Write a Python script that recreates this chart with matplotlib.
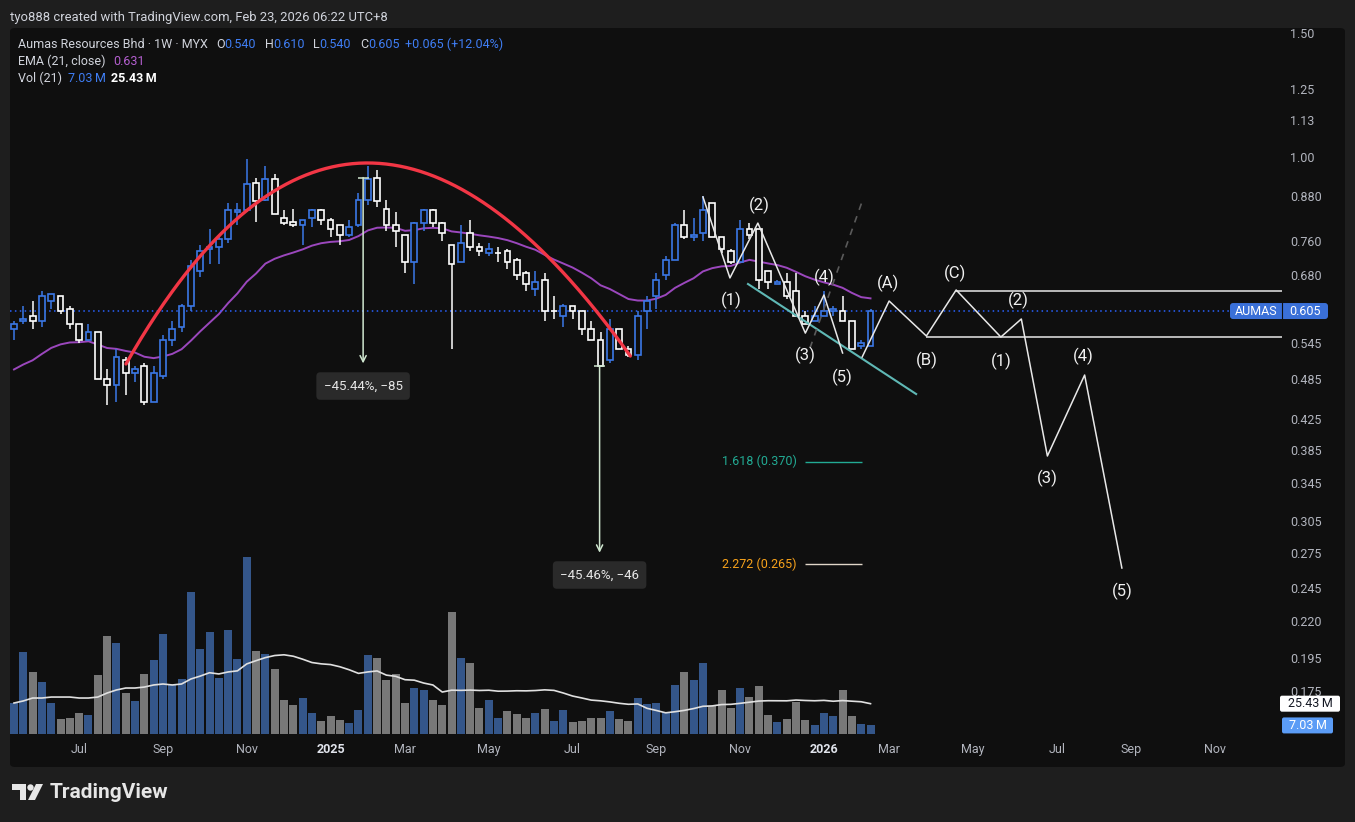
import numpy as np
import matplotlib
matplotlib.use('Agg')
import matplotlib.pyplot as plt
from matplotlib.patches import Rectangle, FancyBboxPatch, Polygon, Circle
import matplotlib.transforms as mtrans
from matplotlib.ticker import NullLocator

plt.rcParams['font.family'] = ['Roboto', 'DejaVu Sans']

# ---------------- data ----------------
OPEN = [0.570, 0.585, 0.595, 0.585, 0.625, 0.635, 0.610, 0.580, 0.550, 0.565,
        0.485, 0.475, 0.515, 0.495, 0.505, 0.450, 0.490, 0.550, 0.575, 0.615,
        0.690, 0.740, 0.745, 0.765, 0.835, 0.840, 0.920, 0.870, 0.930, 0.820,
        0.810, 0.800, 0.820, 0.840, 0.815, 0.800, 0.775, 0.800, 0.870, 0.935,
        0.845, 0.800, 0.775, 0.710, 0.805, 0.840, 0.805, 0.750, 0.710, 0.780,
        0.745, 0.730, 0.730, 0.735, 0.715, 0.685, 0.650, 0.670, 0.605, 0.595,
        0.615, 0.605, 0.570, 0.550, 0.515, 0.570, 0.535, 0.525, 0.605, 0.635,
        0.680, 0.715, 0.800, 0.770, 0.780, 0.860, 0.770, 0.735, 0.710, 0.790,
        0.790, 0.690, 0.660, 0.665, 0.645, 0.595, 0.585, 0.595, 0.605, 0.605,
        0.585, 0.540, 0.540]
HIGH = [0.585, 0.615, 0.625, 0.645, 0.640, 0.635, 0.615, 0.580, 0.580, 0.565,
        0.500, 0.535, 0.520, 0.505, 0.510, 0.505, 0.560, 0.585, 0.620, 0.715,
        0.750, 0.790, 0.770, 0.860, 0.860, 0.995, 0.935, 0.970, 0.945, 0.840,
        0.845, 0.815, 0.845, 0.845, 0.820, 0.800, 0.815, 0.890, 0.970, 0.960,
        0.870, 0.835, 0.775, 0.810, 0.845, 0.845, 0.810, 0.750, 0.800, 0.815,
        0.755, 0.755, 0.745, 0.740, 0.720, 0.690, 0.690, 0.685, 0.635, 0.620,
        0.615, 0.605, 0.585, 0.565, 0.590, 0.570, 0.540, 0.605, 0.635, 0.685,
        0.725, 0.805, 0.840, 0.820, 0.880, 0.860, 0.770, 0.740, 0.815, 0.805,
        0.790, 0.690, 0.670, 0.685, 0.685, 0.605, 0.615, 0.645, 0.615, 0.635,
        0.585, 0.550, 0.610]
LOW = [0.550, 0.580, 0.570, 0.575, 0.610, 0.600, 0.570, 0.545, 0.550, 0.485,
       0.445, 0.450, 0.460, 0.480, 0.445, 0.450, 0.485, 0.540, 0.565, 0.605,
       0.675, 0.705, 0.705, 0.755, 0.800, 0.835, 0.810, 0.865, 0.830, 0.800,
       0.795, 0.750, 0.795, 0.800, 0.770, 0.750, 0.770, 0.795, 0.855, 0.850,
       0.785, 0.745, 0.685, 0.660, 0.785, 0.795, 0.760, 0.535, 0.710, 0.735,
       0.725, 0.725, 0.710, 0.695, 0.670, 0.645, 0.635, 0.585, 0.590, 0.575,
       0.590, 0.560, 0.550, 0.505, 0.510, 0.535, 0.520, 0.515, 0.570, 0.610,
       0.670, 0.715, 0.765, 0.760, 0.760, 0.770, 0.730, 0.705, 0.710, 0.765,
       0.650, 0.650, 0.660, 0.630, 0.595, 0.580, 0.585, 0.595, 0.595, 0.585,
       0.535, 0.535, 0.540]
CLOSE = [0.580, 0.590, 0.585, 0.635, 0.640, 0.605, 0.580, 0.550, 0.565, 0.485,
         0.475, 0.520, 0.495, 0.500, 0.450, 0.495, 0.550, 0.570, 0.615, 0.700,
         0.735, 0.745, 0.765, 0.840, 0.840, 0.915, 0.865, 0.930, 0.830, 0.805,
         0.800, 0.815, 0.840, 0.815, 0.790, 0.775, 0.795, 0.870, 0.930, 0.865,
         0.800, 0.785, 0.710, 0.805, 0.840, 0.805, 0.780, 0.705, 0.755, 0.745,
         0.735, 0.740, 0.730, 0.710, 0.680, 0.660, 0.665, 0.605, 0.605, 0.615,
         0.605, 0.570, 0.550, 0.505, 0.570, 0.535, 0.525, 0.595, 0.625, 0.670,
         0.715, 0.800, 0.770, 0.775, 0.840, 0.770, 0.740, 0.710, 0.790, 0.775,
         0.670, 0.665, 0.665, 0.635, 0.595, 0.580, 0.595, 0.605, 0.610, 0.585,
         0.535, 0.545, 0.605]
VOLUME_M = [25.4, 67.2, 50.8, 42.6, 25.4, 12.3, 13.1, 17.2, 15.6, 48.4,
            80.4, 74.6, 33.6, 27.1, 49.2, 60.7, 82.0, 40.2, 45.1, 116.4,
            69.7, 83.6, 45.9, 85.3, 61.5, 145.1, 68.1, 65.6, 53.3, 27.9,
            23.8, 29.5, 17.2, 10.7, 14.8, 11.5, 9.0, 19.7, 64.8, 62.3,
            44.3, 49.2, 25.4, 37.7, 36.1, 27.9, 23.8, 100.0, 62.3, 58.2,
            21.3, 27.9, 13.1, 18.9, 16.4, 13.1, 17.2, 20.5, 10.7, 19.7,
            9.8, 10.7, 13.1, 13.1, 18.9, 12.3, 10.7, 29.5, 24.6, 25.4,
            18.0, 40.2, 50.8, 44.3, 58.2, 23.0, 36.1, 21.3, 37.7, 30.3,
            39.4, 15.6, 9.8, 12.3, 26.2, 11.5, 7.4, 17.2, 14.8, 36.1,
            14.8, 8.2, 7.03]
# volume 21-MA as read for the first 20 weeks (earlier history not on chart)
VOL_MA_EARLY = [25.4, 27.1, 29.5, 29.5, 30.3, 30.3, 30.3, 29.5, 29.5, 30.3,
                33.6, 36.1, 37.7, 37.7, 38.5, 40.2, 41.0, 40.2, 41.0, 45.1]
EMA_START = 0.500
EMA_LEN = 21

PRICE_TICKS = [1.50, 1.25, 1.13, 1.00, 0.880, 0.760, 0.680, 0.545, 0.485, 0.425,
               0.385, 0.345, 0.305, 0.275, 0.245, 0.220, 0.195, 0.175]
TIME_TICK_POS = [7, 16, 25, 34, 42, 51, 60, 69, 78, 87, 94, 103, 112, 120, 129]
TIME_TICK_LABELS = ['Jul', 'Sep', 'Nov', '2025', 'Mar', 'May', 'Jul', 'Sep', 'Nov',
                    '2026', 'Mar', 'May', 'Jul', 'Sep', 'Nov']

# drawings (bar index, price)
ARC_PTS = [(12.03, 0.509), (36.3, 1.865), (66.2, 0.5224)]
WAVE1_X = [74.0, 76.9, 79.9, 85.0, 87.0, 89.0]
WAVE1_Y = [0.878, 0.674, 0.806, 0.563, 0.6375, 0.5276]
WAVE1_LBL = [('(1)', 77.0, 0.627), ('(2)', 80.1, 0.855), ('(3)', 85.0, 0.524),
             ('(4)', 87.0, 0.676), ('(5)', 89.0, 0.488)]
WAVE2_X = [91.1, 94.0, 98.0, 101.2, 106.0, 108.2, 111.0, 115.0, 119.0]
WAVE2_Y = [0.5207, 0.6251, 0.5577, 0.648, 0.5558, 0.5895, 0.377, 0.491, 0.2616]
WAVE2_LBL = [('(A)', 93.9, 0.663), ('(B)', 98.0, 0.5157), ('(C)', 101.1, 0.685),
             ('(1)', 106.0, 0.514), ('(2)', 107.9, 0.627), ('(3)', 111.0, 0.351),
             ('(4)', 114.9, 0.521), ('(5)', 119.0, 0.2427)]
BOX_TOP, BOX_TOP_X0 = 0.645, 101.2
BOX_BOT, BOX_BOT_X0 = 0.555, 98.0
TREND_X, TREND_Y = [78.84, 96.9], [0.6608, 0.4615]
DASH_X, DASH_Y = [85.5, 91.08], [0.5362, 0.8635]
RANGE1 = (37.5, 0.935, 0.510, '\u221245.44%, \u221285', 0.4737)
RANGE2 = (62.9, 0.505, 0.275, '\u221245.46%, \u221246', 0.2557)
FIB = [('1.618 (0.370)', 0.370, '#22ab94', '#22ab94'),
       ('2.272 (0.265)', 0.265, '#f7a21b', '#e0d6c8')]
FIB_TEXT_X, FIB_X0, FIB_X1 = 84.1, 85.0, 91.1
LAST_PRICE = 0.605

# ---------------- figure ----------------
W, H = 1355, 822
fig = plt.figure(figsize=(W / 100, H / 100), dpi=100)
fig.patch.set_facecolor('#1e1e1e')
BG = '#0f0f0f'
UP = '#3b78e7'
DN = '#ffffff'
TXT = '#d1d4dc'
AX_TXT = '#b2b5be'

def fx(px):
    return px / W

def fy(py):
    return 1 - py / H

fig.add_artist(FancyBboxPatch((fx(10), fy(767)), (1345 - 10) / W, (767 - 28) / H,
                              boxstyle='round,pad=0,rounding_size=0.004',
                              transform=fig.transFigure, facecolor=BG,
                              edgecolor='none', zorder=0))

rect = [fx(10), fy(738), 1272 / W, 710 / H]
ax_vol = fig.add_axes(rect)
ax_vol.set_facecolor('none')
ax = fig.add_axes(rect, sharex=ax_vol)
ax.set_facecolor('none')

n = len(CLOSE)
x = np.arange(n)
o = np.array(OPEN); h = np.array(HIGH); l = np.array(LOW); c = np.array(CLOSE)
up = c > o
cols = [UP if u else DN for u in up]

ax.set_xlim(-0.43, 136.2)
ax.set_yscale('log')
ax.set_ylim(0.15024, 1.5233)

# volume
vol = np.array(VOLUME_M)
vcols = ['#34568a' if cc >= oo else '#787878' for cc, oo in zip(c, o)]
ax_vol.bar(x, vol, width=0.86, color=vcols, zorder=1)
ma = np.empty(n)
ma[:len(VOL_MA_EARLY)] = VOL_MA_EARLY
for i in range(len(VOL_MA_EARLY), n):
    ma[i] = vol[i - 20:i + 1].mean()
ax_vol.plot(x, ma, color='#e0e0e0', lw=1.2, zorder=2)
ax_vol.set_ylim(-3.28, 578.9)
ax_vol.axis('off')

# candles
btop = np.maximum(o, c); bbot = np.minimum(o, c)
ax.vlines(x, btop, h, colors=cols, lw=1.1, zorder=3)
ax.vlines(x, l, bbot, colors=cols, lw=1.1, zorder=3)
hgt = np.maximum(btop - bbot, 1e-5)
ax.bar(x, hgt, bottom=bbot, width=0.62, facecolor=BG, edgecolor=cols, linewidth=1.2, zorder=4)

# EMA
alpha = 2.0 / (EMA_LEN + 1)
ema = np.empty(n)
ema[0] = EMA_START
for i in range(1, n):
    ema[i] = ema[i - 1] + alpha * (c[i] - ema[i - 1])
ax.plot(x, ema, color='#9b47bd', lw=1.4, zorder=2)

# last price dotted line
ax.axhline(LAST_PRICE, color='#2962ff', ls=(0, (1, 2.2)), lw=1.1, zorder=2)

# arc (quadratic curve in chart space)
t = np.linspace(0, 1, 300)
(x0, y0), (x1, y1), (x2, y2) = ARC_PTS
ly0, ly1, ly2 = np.log(y0), np.log(y1), np.log(y2)
bx = (1 - t) ** 2 * x0 + 2 * t * (1 - t) * x1 + t ** 2 * x2
by = np.exp((1 - t) ** 2 * ly0 + 2 * t * (1 - t) * ly1 + t ** 2 * ly2)
ax.plot(bx, by, color='#f23645', lw=2.4, zorder=5, solid_capstyle='round')

# trend & dashed
ax.plot(TREND_X, TREND_Y, color='#5fb8b5', lw=1.5, zorder=5)
ax.plot(DASH_X, DASH_Y, color='#5a5a5a', lw=1.2, ls=(0, (4, 4)), zorder=5)

# elliott waves
ax.plot(WAVE1_X, WAVE1_Y, color='#e8e8e8', lw=1.1, zorder=6)
ax.plot(WAVE2_X, WAVE2_Y, color='#e8e8e8', lw=1.1, zorder=6)
ax.hlines(BOX_TOP, BOX_TOP_X0, 136.2, color='#e8e8e8', lw=1.1, zorder=6)
ax.hlines(BOX_BOT, BOX_BOT_X0, 136.2, color='#e8e8e8', lw=1.1, zorder=6)
for s, xx, yy in WAVE1_LBL + WAVE2_LBL:
    ax.text(xx, yy, s, color='#f0f0f0', fontsize=12, ha='center', va='center', zorder=7)

# price ranges
for (xr, ptop, pbot, lbl, ylbl) in (RANGE1, RANGE2):
    ax.annotate('', xy=(xr, pbot), xytext=(xr, ptop),
                arrowprops=dict(arrowstyle='->', color='#cfe6cf', lw=1.1,
                                shrinkA=0, shrinkB=0, mutation_scale=11), zorder=6)
    ax.hlines(ptop, xr - 0.6, xr + 0.6, color='#cfe6cf', lw=1.1, zorder=6)
    ax.text(xr, ylbl, lbl, ha='center', va='center', color='#e6e6e6', fontsize=9.5,
            zorder=8, bbox=dict(boxstyle='round,pad=0.55,rounding_size=0.3',
                                fc='#2a2a2a', ec='none'))

# fib levels
for lbl, lv, tc, lc in FIB:
    ax.text(FIB_TEXT_X, lv, lbl, ha='right', va='center', color=tc, fontsize=9, zorder=6)
    ax.hlines(lv, FIB_X0, FIB_X1, color=lc, lw=1.0, zorder=6)

# axes styling
for sp in ax.spines.values():
    sp.set_visible(False)
ax.yaxis.tick_right()
ax.yaxis.set_minor_locator(NullLocator())
ax.set_yticks(PRICE_TICKS)
ax.set_yticklabels([('%.2f' % v) if v >= 1 else ('%.3f' % v) for v in PRICE_TICKS])
ax.tick_params(axis='y', length=0, pad=5.8, labelsize=9, labelcolor=AX_TXT)
ax.set_xticks(TIME_TICK_POS)
ax.set_xticklabels(TIME_TICK_LABELS)
ax.tick_params(axis='x', length=0, pad=3.5, labelsize=9, labelcolor=AX_TXT)
for tl in ax.get_xticklabels():
    if tl.get_text() in ('2025', '2026'):
        tl.set_fontweight('bold')
        tl.set_color('#e0e3eb')

# right-side value labels (pixel boxes)
fig.canvas.draw()
renderer = fig.canvas.get_renderer()
ID = mtrans.IdentityTransform()

def yd_price(p):
    return ax.transData.transform((0, p))[1]

def yd_vol(v):
    return ax_vol.transData.transform((0, v))[1]

yp = yd_price(LAST_PRICE)
fig.add_artist(FancyBboxPatch((1230, yp - 8), 98, 16, boxstyle='round,pad=0,rounding_size=3',
                              transform=ID, fc='#3a70d8', ec='none', zorder=10))
fig.add_artist(plt.Line2D([1282, 1282], [yp - 8, yp + 8], transform=ID, color='#0f0f0f', lw=0.8, zorder=11))
fig.text(1256, yp, 'AUMAS', transform=ID, ha='center', va='center', color='white', fontsize=9, zorder=12)
fig.text(1305, yp, '%.3f' % LAST_PRICE, transform=ID, ha='center', va='center', color='white', fontsize=9, zorder=12)

ym = yd_vol(ma[-1])
fig.add_artist(FancyBboxPatch((1280, ym - 8), 60, 16, boxstyle='round,pad=0,rounding_size=2',
                              transform=ID, fc='#ffffff', ec='none', zorder=10))
fig.text(1310, ym, '25.43\u2009M', transform=ID, ha='center', va='center', color='#131722', fontsize=9, zorder=12)
yv = yd_vol(vol[-1])
fig.add_artist(FancyBboxPatch((1282, yv - 8), 51, 16, boxstyle='round,pad=0,rounding_size=2',
                              transform=ID, fc='#5b9cf6', ec='none', zorder=10))
fig.text(1307.5, yv, '7.03\u2009M', transform=ID, ha='center', va='center', color='#ffffff', fontsize=9, zorder=12)

# header texts
fig.text(10, 822 - 17, 'tyo888 created with TradingView.com, Feb 23, 2026 06:22 UTC+8',
         transform=ID, color=TXT, fontsize=9.4, ha='left', va='center')
BLUE_T = '#3f7ef5'

def chain(groups, ypx):
    # groups: list of (start_px, [(text, color, weight), ...])
    for start, parts in groups:
        cx = start
        for s, col, wt in parts:
            tt = fig.text(cx, 822 - ypx, s, transform=ID, color=col, fontsize=9,
                          ha='left', va='center', fontweight=wt)
            cx += tt.get_window_extent(renderer).width

chain([(18, [('Aumas Resources Bhd \u00b7 1W \u00b7 MYX', TXT, 'normal')]),
       (216, [('O', TXT, 'normal'), ('0.540', BLUE_T, 'normal')]),
       (265, [('H', TXT, 'normal'), ('0.610', BLUE_T, 'normal')]),
       (313, [('L', TXT, 'normal'), ('0.540', BLUE_T, 'normal')]),
       (360, [('C', TXT, 'normal'), ('0.605', BLUE_T, 'normal')]),
       (405, [('+0.065 (+12.04%)', BLUE_T, 'normal')])], 44)
chain([(18, [('EMA (21, close)', TXT, 'normal')]),
       (113, [('0.631', '#b45fd0', 'normal')])], 61)
chain([(18, [('Vol (21)', TXT, 'normal')]),
       (68, [('7.03\u2009M', BLUE_T, 'normal')]),
       (111, [('25.43\u2009M', '#ffffff', 'bold')])], 78)

# TradingView logo
LG = '#e6e6e6'
fig.add_artist(Polygon([[12, 822 - 784], [26, 822 - 784], [26, 822 - 800], [20, 822 - 800],
                        [20, 822 - 790], [12, 822 - 790]], closed=True, transform=ID, fc=LG, ec='none'))
fig.add_artist(Circle((30.5, 822 - 787.5), 3.2, transform=ID, fc=LG, ec='none'))
fig.add_artist(Polygon([[36, 822 - 784], [43, 822 - 784], [35, 822 - 800], [28, 822 - 800]],
                       closed=True, transform=ID, fc=LG, ec='none'))
fig.text(50, 822 - 792, 'TradingView', transform=ID, color=LG, fontsize=15, fontweight='bold',
         ha='left', va='center')

fig.savefig('out.png', dpi=100, facecolor=fig.get_facecolor())
